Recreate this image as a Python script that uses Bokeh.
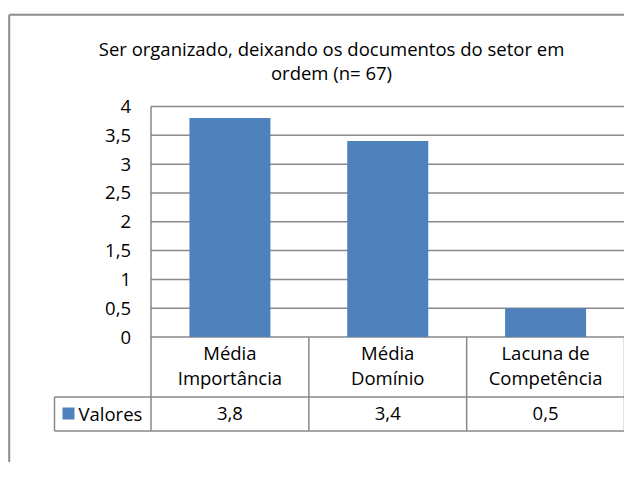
from bokeh.plotting import figure
from bokeh.models import Range1d
from bokeh.embed import file_html
from bokeh.resources import INLINE
from bokeh.core.properties import value

# ---- data ----
title_lines = ["Ser organizado, deixando os documentos do setor em", "ordem (n= 67)"]
categories = ["Média\nImportância", "Média\nDomínio", "Lacuna de\nCompetência"]
values = [3.8, 3.4, 0.5]
value_labels = ["3,8", "3,4", "0,5"]
series_name = "Valores"
y_ticks = [0, 0.5, 1, 1.5, 2, 2.5, 3, 3.5, 4]
y_tick_labels = ["0", "0,5", "1", "1,5", "2", "2,5", "3", "3,5", "4"]

# ---- layout (pixel anchors -> data units) ----
W, H = 624, 462
PX_LEFT, PX_RIGHT = 150.5, 624.0
PX_ZERO, PX_TOP = 336.5, 106.0
NCAT = len(categories)
XU = (PX_RIGHT - PX_LEFT) / NCAT
YU = (PX_ZERO - PX_TOP) / y_ticks[-1]


def dx(px):
    return (px - PX_LEFT) / XU


def dy(py):
    return (PX_ZERO - py) / YU


FONT = value("Open Sans")
FS = "18.5px"
GRID = "#898989"
BAR = "#4F81BD"
TXT = "#000000"

p = figure(width=W, height=H, x_range=Range1d(dx(0), dx(W)),
           y_range=Range1d(dy(H), dy(0)), output_backend="svg",
           toolbar_location=None, min_border=0,
           x_axis_location=None, y_axis_location=None)
p.grid.visible = False
p.outline_line_color = None
p.background_fill_color = "white"
p.border_fill_color = "white"

# outer chart border (top and left visible)
p.segment(x0=[dx(8.7), dx(8.7)], y0=[dy(14.3), dy(14.3)],
          x1=[dx(700), dx(8.7)], y1=[dy(14.3), dy(600)],
          line_color="#8c8c8c", line_width=2)

# title
p.text(x=[dx(331)] * len(title_lines), y=[dy(48), dy(72)], text=title_lines,
       text_font=FONT, text_font_size=FS, text_align="center",
       text_baseline="middle", text_color=TXT)

# gridlines
p.segment(x0=[0] * len(y_ticks), x1=[NCAT] * len(y_ticks), y0=y_ticks, y1=y_ticks,
          line_color=GRID, line_width=1.5)

# tick labels
p.text(x=[dx(130.5)] * len(y_ticks), y=y_ticks, text=y_tick_labels,
       text_font=FONT, text_font_size=FS, text_align="right",
       text_baseline="middle", text_color=TXT)

# bars
xs = [i + 0.5 for i in range(NCAT)]
p.vbar(x=xs, top=values, bottom=0, width=81 / XU, fill_color=BAR, line_color=None)

# data table
row1 = dy(396.5)
row2 = dy(430.5)
leg_left = dx(54)
vx0 = [i for i in range(NCAT + 1)] + [leg_left]
vy0 = [y_ticks[-1]] + [0] * NCAT + [row1]
p.segment(x0=vx0, x1=vx0, y0=vy0, y1=[row2] * len(vx0), line_color=GRID, line_width=1.5)
p.segment(x0=[leg_left, leg_left], x1=[NCAT, NCAT], y0=[row1, row2], y1=[row1, row2],
          line_color=GRID, line_width=1.5)

# category labels (two lines each)
cat_x, cat_y, cat_t = [], [], []
for i, c in enumerate(categories):
    for j, line in enumerate(c.split("\n")):
        cat_x.append(xs[i])
        cat_y.append(dy(352 + 25 * j))
        cat_t.append(line)
p.text(x=cat_x, y=cat_y, text=cat_t, text_font=FONT, text_font_size=FS,
       text_align="center", text_baseline="middle", text_color=TXT)

p.text(x=xs, y=[dy(413)] * NCAT, text=value_labels, text_font=FONT,
       text_font_size=FS, text_align="center", text_baseline="middle",
       text_color=TXT)

# legend key
p.scatter(x=[dx(68)], y=[dy(413)], marker="square", size=12, fill_color=BAR, line_color=None)
p.text(x=[dx(78)], y=[dy(413)], text=[series_name], text_font=FONT,
       text_font_size=FS, text_align="left", text_baseline="middle",
       text_color=TXT)

open("out.html", "w").write(file_html(p, INLINE))
